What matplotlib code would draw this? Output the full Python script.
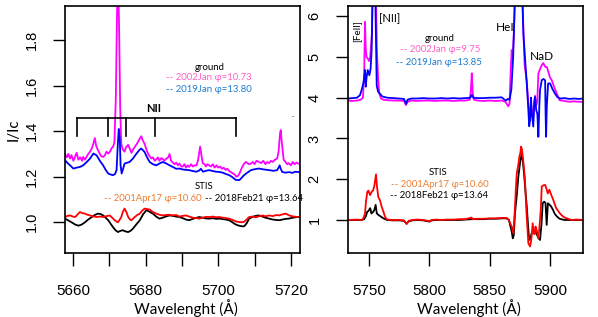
import matplotlib
matplotlib.use('Agg')
import matplotlib.pyplot as plt

# ---- data ----
# left panel (NII region)
gr02_x = [5657.8, 5658.3, 5658.7, 5659.2, 5659.6, 5660.1, 5660.6, 5661.0, 5661.5, 5662.0,
          5662.5, 5662.8, 5663.3, 5663.8, 5664.2, 5664.7, 5665.2, 5665.6, 5666.0, 5666.4,
          5666.9, 5667.4, 5667.8, 5668.3, 5668.8, 5669.2, 5669.7, 5670.2, 5670.6, 5671.0,
          5671.4, 5671.8, 5672.1, 5672.4, 5672.7, 5673.0, 5673.3, 5673.7, 5674.2, 5674.6,
          5675.2, 5675.7, 5676.1, 5676.5, 5677.0, 5677.4, 5677.8, 5678.3, 5678.8, 5679.2,
          5679.7, 5680.2, 5680.7, 5681.1, 5681.6, 5682.0, 5682.5, 5682.9, 5683.4, 5683.8,
          5684.3, 5684.7, 5685.2, 5685.7, 5686.2, 5686.6, 5687.0, 5687.5, 5688.0, 5688.4,
          5688.9, 5689.3, 5689.8, 5690.2, 5690.7, 5691.1, 5691.6, 5692.0, 5692.5, 5693.0,
          5693.5, 5694.0, 5694.4, 5694.8, 5695.0, 5695.3, 5695.7, 5696.2, 5696.6, 5697.0,
          5697.5, 5698.0, 5698.5, 5699.0, 5699.5, 5700.0, 5700.5, 5701.0, 5701.5, 5702.0,
          5702.5, 5703.0, 5703.5, 5704.0, 5704.5, 5705.0, 5705.5, 5706.0, 5706.5, 5707.0,
          5707.6, 5708.0, 5708.5, 5709.0, 5709.5, 5710.0, 5710.5, 5711.2, 5711.8, 5712.4,
          5713.0, 5713.5, 5714.0, 5714.5, 5715.0, 5715.6, 5716.2, 5716.6, 5717.0, 5717.2,
          5717.5, 5718.0, 5718.5, 5719.0, 5719.4, 5720.0, 5720.5, 5721.0, 5721.5, 5722.5]
gr02_y = [1.300, 1.285, 1.300, 1.280, 1.295, 1.270, 1.290, 1.305, 1.275, 1.285,
          1.270, 1.287, 1.275, 1.290, 1.300, 1.310, 1.325, 1.345, 1.370, 1.335,
          1.316, 1.300, 1.290, 1.287, 1.295, 1.310, 1.302, 1.310, 1.325, 1.331,
          1.350, 1.550, 1.900, 2.100, 1.850, 1.500, 1.345, 1.320, 1.310, 1.330,
          1.340, 1.320, 1.305, 1.318, 1.330, 1.340, 1.350, 1.365, 1.378, 1.360,
          1.345, 1.320, 1.300, 1.290, 1.280, 1.285, 1.270, 1.276, 1.285, 1.270,
          1.282, 1.278, 1.270, 1.280, 1.285, 1.300, 1.270, 1.262, 1.255, 1.262,
          1.250, 1.258, 1.245, 1.245, 1.255, 1.240, 1.250, 1.243, 1.255, 1.245,
          1.250, 1.250, 1.270, 1.310, 1.332, 1.300, 1.260, 1.255, 1.245, 1.255,
          1.250, 1.245, 1.255, 1.240, 1.250, 1.240, 1.245, 1.235, 1.240, 1.230,
          1.235, 1.225, 1.220, 1.215, 1.210, 1.200, 1.205, 1.220, 1.240, 1.255,
          1.265, 1.260, 1.255, 1.258, 1.265, 1.255, 1.270, 1.265, 1.260, 1.270,
          1.255, 1.265, 1.260, 1.270, 1.265, 1.275, 1.280, 1.310, 1.390, 1.405,
          1.350, 1.275, 1.265, 1.255, 1.260, 1.250, 1.265, 1.255, 1.262, 1.255]

gr19_x = [5657.8, 5658.5, 5659.2, 5660.1, 5661.0, 5661.9, 5662.8, 5663.8, 5664.7, 5665.6,
          5666.5, 5667.4, 5668.3, 5669.0, 5669.7, 5670.3, 5671.0, 5671.6, 5672.0, 5672.3,
          5672.6, 5672.9, 5673.1, 5673.4, 5673.8, 5674.2, 5675.0, 5675.6, 5676.5, 5677.5,
          5678.3, 5678.8, 5679.7, 5680.4, 5681.1, 5682.0, 5682.9, 5683.8, 5684.7, 5685.7,
          5686.6, 5687.5, 5688.4, 5689.3, 5690.2, 5691.1, 5692.0, 5693.0, 5694.0, 5694.8,
          5695.2, 5695.8, 5696.6, 5697.5, 5698.5, 5699.4, 5700.3, 5701.2, 5702.1, 5703.0,
          5703.9, 5704.8, 5705.8, 5706.4, 5707.1, 5708.0, 5709.0, 5710.0, 5711.2, 5712.5,
          5714.0, 5715.2, 5716.2, 5716.6, 5716.9, 5717.2, 5717.6, 5718.5, 5719.5, 5720.4,
          5721.2, 5722.5]
gr19_y = [1.273, 1.260, 1.250, 1.236, 1.240, 1.243, 1.250, 1.265, 1.280, 1.302,
          1.294, 1.270, 1.250, 1.230, 1.214, 1.210, 1.207, 1.212, 1.230, 1.330,
          1.410, 1.360, 1.250, 1.214, 1.235, 1.258, 1.262, 1.265, 1.280, 1.302,
          1.318, 1.324, 1.309, 1.285, 1.265, 1.255, 1.250, 1.258, 1.265, 1.258,
          1.250, 1.243, 1.235, 1.236, 1.232, 1.230, 1.229, 1.225, 1.222, 1.228,
          1.235, 1.222, 1.226, 1.229, 1.225, 1.222, 1.221, 1.218, 1.212, 1.207,
          1.198, 1.186, 1.185, 1.195, 1.207, 1.218, 1.229, 1.233, 1.236, 1.232,
          1.229, 1.226, 1.229, 1.240, 1.250, 1.235, 1.221, 1.218, 1.220, 1.217,
          1.222, 1.220]

st01_x = [5657.8, 5658.5, 5659.2, 5660.0, 5660.6, 5661.3, 5661.9, 5662.6, 5663.3, 5664.0,
          5664.7, 5665.6, 5666.5, 5667.4, 5668.3, 5669.2, 5670.1, 5670.8, 5671.5, 5672.0,
          5672.4, 5672.8, 5673.3, 5673.7, 5674.2, 5674.7, 5675.2, 5675.7, 5676.1, 5676.5,
          5677.0, 5677.7, 5678.4, 5679.0, 5679.7, 5680.4, 5681.1, 5682.0, 5682.9, 5683.8,
          5684.7, 5685.7, 5686.6, 5687.5, 5688.4, 5689.3, 5690.2, 5691.1, 5692.0, 5693.0,
          5694.0, 5694.8, 5695.7, 5696.6, 5697.5, 5698.5, 5699.4, 5700.3, 5701.2, 5702.1,
          5703.0, 5704.0, 5705.0, 5705.8, 5706.5, 5707.1, 5707.8, 5708.5, 5709.5, 5710.3,
          5711.2, 5712.2, 5713.0, 5714.0, 5715.0, 5716.0, 5716.8, 5717.7, 5718.6, 5719.5,
          5720.5, 5721.8, 5722.5]
st01_y = [1.023, 1.028, 1.030, 1.025, 1.023, 1.035, 1.045, 1.040, 1.038, 1.033,
          1.030, 1.026, 1.023, 1.025, 1.023, 1.027, 1.030, 1.020, 1.009, 1.003,
          1.000, 1.010, 1.023, 1.045, 1.060, 1.045, 1.023, 1.012, 1.009, 1.015,
          1.023, 1.032, 1.038, 1.050, 1.060, 1.058, 1.056, 1.045, 1.038, 1.033,
          1.030, 1.032, 1.033, 1.030, 1.032, 1.025, 1.028, 1.030, 1.025, 1.020,
          1.018, 1.016, 1.020, 1.024, 1.023, 1.025, 1.022, 1.023, 1.020, 1.018,
          1.016, 1.010, 1.003, 1.001, 1.000, 1.002, 1.012, 1.023, 1.025, 1.022,
          1.026, 1.030, 1.026, 1.030, 1.027, 1.032, 1.030, 1.035, 1.038, 1.030,
          1.026, 1.023, 1.025]

st18_x = [5657.8, 5658.7, 5659.6, 5660.6, 5661.5, 5662.4, 5663.3, 5664.2, 5665.2, 5666.0,
          5666.9, 5667.6, 5668.3, 5669.0, 5669.7, 5670.3, 5671.0, 5671.7, 5672.4, 5673.0,
          5673.7, 5674.4, 5675.2, 5675.9, 5676.5, 5677.4, 5678.4, 5679.3, 5680.2, 5681.1,
          5682.0, 5682.9, 5683.8, 5684.7, 5685.7, 5686.6, 5687.5, 5688.4, 5689.3, 5690.2,
          5691.1, 5692.0, 5693.0, 5694.0, 5694.8, 5695.7, 5696.6, 5697.5, 5698.5, 5699.4,
          5700.3, 5701.2, 5702.1, 5703.0, 5703.9, 5704.6, 5705.3, 5706.2, 5707.1, 5707.8,
          5708.5, 5709.5, 5710.3, 5711.2, 5712.2, 5713.0, 5714.0, 5715.0, 5716.0, 5716.8,
          5717.7, 5718.6, 5719.4, 5720.5, 5721.8, 5722.5]
st18_y = [1.016, 1.008, 1.000, 0.990, 0.985, 0.990, 1.000, 1.012, 1.023, 1.032,
          1.038, 1.036, 1.030, 1.020, 1.009, 0.995, 0.979, 0.965, 0.957, 0.962,
          0.965, 0.960, 0.957, 0.963, 0.972, 0.990, 1.009, 1.035, 1.053, 1.046,
          1.038, 1.025, 1.016, 1.020, 1.026, 1.030, 1.028, 1.025, 1.023, 1.018,
          1.012, 1.009, 1.015, 1.020, 1.023, 1.020, 1.017, 1.016, 1.018, 1.015,
          1.016, 1.014, 1.012, 1.009, 1.000, 0.992, 0.987, 0.983, 0.982, 0.995,
          1.016, 1.024, 1.028, 1.030, 1.025, 1.020, 1.016, 1.012, 1.010, 1.009,
          1.012, 1.015, 1.016, 1.020, 1.023, 1.022]

# NII line positions marked on the left panel
nii_x = [5661.1, 5669.6, 5674.5, 5682.5, 5704.9]

# right panel (5730-5930 region)
gr02r_x = [5732.6, 5736, 5740, 5743, 5745, 5746, 5746.7, 5747.3, 5748, 5749,
           5750, 5751, 5752.5, 5753.5, 5754.5, 5755.5, 5756.5, 5757.5, 5758.5, 5760,
           5762, 5765, 5770, 5775, 5779, 5780.7, 5782, 5785, 5790, 5795,
           5800, 5805, 5810, 5815, 5820, 5825, 5830, 5833.5, 5834.5, 5835.2,
           5836, 5837, 5840, 5845, 5850, 5855, 5860, 5863, 5865.5, 5866.5,
           5867.5, 5868.3, 5869.0, 5870.0, 5871, 5873, 5875, 5877, 5878, 5879,
           5880.8, 5882.1, 5883.5, 5884.5, 5886.2, 5887.6, 5888.5, 5889.5, 5890.4, 5891.8,
           5893.2, 5894.5, 5896, 5897.5, 5898.5, 5900, 5901.5, 5903, 5905, 5908,
           5912, 5916, 5920, 5924, 5927.4]
gr02r_y = [3.93, 3.92, 3.93, 3.95, 4.00, 4.60, 5.86, 5.20, 5.00, 4.96,
           4.90, 5.00, 5.60, 7.50, 8.00, 7.00, 5.20, 4.50, 4.10, 3.98,
           3.95, 3.94, 3.93, 3.93, 3.92, 3.82, 3.90, 3.93, 3.92, 3.93,
           3.93, 3.92, 3.93, 3.93, 3.92, 3.93, 3.93, 3.95, 4.20, 4.60,
           4.10, 3.95, 3.93, 3.92, 3.93, 3.92, 3.93, 3.90, 3.79, 3.85,
           4.70, 5.17, 4.95, 5.50, 6.50, 7.50, 7.50, 6.80, 5.60, 4.80,
           4.40, 3.85, 3.60, 3.80, 3.50, 4.05, 3.80, 3.90, 4.60, 4.70,
           4.80, 4.85, 4.76, 4.75, 4.65, 4.50, 4.43, 4.30, 4.15, 3.94,
           3.92, 3.90, 3.91, 3.90, 3.90]

gr19r_x = [5732.6, 5736, 5740, 5742.5, 5744, 5745.3, 5746.0, 5746.7, 5747.3, 5748,
           5749, 5750.3, 5751.3, 5752.2, 5753.2, 5754.5, 5755.5, 5756.4, 5757.5, 5759.1,
           5761, 5765, 5770, 5775, 5779, 5780.7, 5782, 5785, 5790, 5795,
           5800, 5805, 5810, 5815, 5820, 5825, 5830, 5834, 5835.2, 5836.5,
           5840, 5845, 5850, 5855, 5860, 5862, 5863.5, 5865, 5866.5, 5868,
           5869.5, 5871, 5873, 5875.5, 5877.0, 5878.0, 5879.5, 5880.8, 5882.1, 5882.8,
           5883.5, 5884.3, 5885.0, 5886.2, 5887.0, 5887.6, 5888.6, 5889.6, 5890.4, 5891.2,
           5891.8, 5893.2, 5894.5, 5896.0, 5896.4, 5896.8, 5897.4, 5898.5, 5900.1, 5902,
           5904.2, 5906, 5908.3, 5912, 5916, 5920, 5924, 5927.4]
gr19r_y = [3.98, 3.99, 4.00, 4.06, 4.20, 4.35, 4.47, 4.68, 4.27, 4.50,
           4.68, 4.55, 4.70, 5.17, 7.00, 8.00, 6.00, 4.30, 4.15, 4.10,
           4.03, 4.00, 3.99, 3.98, 3.97, 3.85, 3.95, 3.98, 3.98, 3.99,
           3.98, 3.98, 3.99, 3.98, 3.99, 3.98, 3.99, 4.00, 4.07, 4.00,
           3.99, 3.99, 4.00, 4.00, 4.01, 3.96, 3.93, 3.97, 3.95, 4.20,
           5.00, 6.50, 7.50, 7.50, 6.50, 5.58, 4.90, 4.35, 3.70, 3.30,
           3.45, 4.00, 3.60, 3.29, 3.90, 4.02, 3.70, 3.60, 3.04, 3.80,
           4.19, 4.43, 4.46, 4.43, 3.60, 3.04, 3.80, 4.35, 4.35, 4.22,
           4.10, 4.02, 3.98, 3.99, 3.97, 3.98, 3.97, 3.98]

st01r_x = [5732.6, 5740, 5744, 5745.5, 5746.7, 5747.5, 5748.6, 5749.5, 5750.9, 5752.2,
           5753.5, 5754.5, 5755.8, 5756.7, 5757.7, 5759, 5760.5, 5762, 5763.3, 5765,
           5770, 5775, 5779, 5781.2, 5783, 5786, 5790, 5795, 5800, 5802,
           5806, 5810, 5815, 5820, 5825, 5830, 5835, 5836, 5840, 5845,
           5850, 5855, 5860, 5864, 5866, 5867, 5868.3, 5869.7, 5870.8, 5871.8,
           5872.5, 5874.0, 5874.6, 5875.5, 5876, 5876.7, 5877.5, 5878.4, 5879.3, 5880.5,
           5882.1, 5883.5, 5884.5, 5885.7, 5886.5, 5887.3, 5888.0, 5889.0, 5890.4, 5891.5,
           5892.4, 5893.2, 5894.5, 5896, 5897.3, 5898.2, 5899.5, 5901, 5902.8, 5905,
           5908.3, 5911, 5913.8, 5918, 5922, 5927.4]
st01r_y = [1.00, 1.01, 1.00, 1.05, 1.16, 1.45, 1.69, 1.72, 1.61, 1.69,
           1.73, 1.85, 2.12, 1.80, 1.57, 1.49, 1.33, 1.20, 1.08, 1.01,
           1.00, 1.00, 0.99, 0.90, 0.98, 1.00, 1.01, 1.00, 0.97, 1.00,
           1.01, 1.00, 1.01, 1.01, 1.02, 1.02, 1.06, 1.02, 1.03, 1.03,
           1.04, 1.04, 1.05, 1.05, 1.00, 0.92, 0.84, 0.67, 1.20, 1.80,
           2.14, 2.40, 2.55, 2.65, 2.80, 2.75, 2.55, 2.30, 1.98, 1.20,
           0.43, 0.35, 0.50, 0.92, 0.67, 0.65, 0.84, 0.75, 0.55, 0.90,
           1.25, 1.82, 1.85, 1.86, 1.75, 1.65, 1.74, 1.62, 1.49, 1.30,
           1.16, 1.08, 1.04, 1.00, 1.01, 1.00]

st18r_x = [5732.6, 5740, 5744, 5746, 5747.5, 5748.5, 5749.5, 5751, 5752, 5753.5,
           5754.5, 5755.5, 5756.5, 5758, 5760, 5762, 5763.5, 5765, 5770, 5775,
           5779, 5781.2, 5783, 5786, 5790, 5795, 5800, 5802, 5806, 5810,
           5815, 5820, 5825, 5830, 5835, 5840, 5845, 5850, 5855, 5860,
           5864, 5866, 5867.2, 5868.3, 5869.2, 5870.0, 5871, 5872.5, 5873.8, 5875.2,
           5876.6, 5877.5, 5878.5, 5880, 5880.8, 5882, 5882.8, 5883.8, 5884.8, 5886,
           5887.5, 5889, 5890.6, 5891.8, 5893, 5894, 5895.2, 5896.3, 5897.3, 5898.3,
           5899.5, 5901, 5902.5, 5904, 5906, 5908, 5912, 5918, 5927.4]
st18r_y = [1.00, 1.00, 1.00, 1.02, 1.10, 1.20, 1.22, 1.29, 1.16, 1.20,
           1.25, 1.37, 1.16, 1.12, 1.08, 1.04, 1.02, 1.00, 0.99, 0.99,
           0.98, 0.91, 0.97, 0.99, 1.00, 0.99, 0.96, 0.99, 1.00, 1.00,
           1.00, 1.00, 1.00, 1.01, 1.02, 1.02, 1.02, 1.03, 1.03, 1.04,
           1.04, 1.00, 0.85, 0.72, 0.55, 0.62, 1.16, 1.60, 2.06, 2.40,
           2.63, 2.45, 2.14, 1.60, 1.33, 0.80, 0.51, 0.55, 0.67, 0.72,
           0.75, 0.65, 0.55, 0.51, 0.90, 1.41, 1.45, 1.42, 0.88, 1.41,
           1.38, 1.33, 1.25, 1.15, 1.08, 1.03, 1.00, 1.00, 1.00]

# ---- colours / fonts ----
MAG, BLU, RED, BLK = '#FF00FF', '#0000FF', '#FF0000', 'black'
PINK_TXT, BLUE_TXT, ORANGE_TXT = '#FF5FC8', '#1C7CD0', '#ED7D31'
TICKFONT = 'Liberation Sans'
TXTFONT = ['Lato', 'DejaVu Sans']
ANN = 6.9

fig = plt.figure(figsize=(5.98, 3.17), dpi=100)
ax1 = fig.add_axes([65/598, 64/317, 235/598, 247/317])
ax2 = fig.add_axes([348/598, 64/317, 235/598, 247/317])

# left panel
ax1.plot(gr02_x, gr02_y, color=MAG, lw=1.3)
ax1.plot(gr19_x, gr19_y, color=BLU, lw=1.3)
ax1.plot(st18_x, st18_y, color=BLK, lw=1.3)
ax1.plot(st01_x, st01_y, color=RED, lw=1.3)
ax1.set_xlim(5657.8, 5722.5)
ax1.set_ylim(0.865, 1.95)
ax1.set_xticks(range(5660, 5721, 10))
ax1.set_xticklabels([str(v) if v % 20 == 0 else '' for v in range(5660, 5721, 10)])
ax1.set_yticks([1.0, 1.2, 1.4, 1.6, 1.8])
ax1.set_yticklabels(['1.0', '1.2', '1.4', '1.6', '1.8'])

# NII marker
ax1.plot([nii_x[0], nii_x[-1]], [1.457, 1.457], color='black', lw=1.2)
for xv in nii_x:
    ax1.plot([xv, xv], [1.457, 1.378], color='black', lw=1.2)

# right panel
ax2.plot(gr02r_x, gr02r_y, color=MAG, lw=1.3)
ax2.plot(gr19r_x, gr19r_y, color=BLU, lw=1.3)
ax2.plot(st18r_x, st18r_y, color=BLK, lw=1.3)
ax2.plot(st01r_x, st01r_y, color=RED, lw=1.3)
ax2.set_xlim(5732.6, 5927.4)
ax2.set_ylim(0.19, 6.25)
ax2.set_xticks([5750, 5800, 5850, 5900])
ax2.set_yticks([1, 2, 3, 4, 5, 6])

for ax in (ax1, ax2):
    for sp in ax.spines.values():
        sp.set_linewidth(1.2)
    ax.tick_params(axis='x', length=9, width=1, pad=13, labelsize=11)
    ax.tick_params(axis='y', length=8.5, width=1, pad=10.5, labelsize=10.5)
    for t in ax.get_xticklabels() + ax.get_yticklabels():
        t.set_fontfamily(TICKFONT)
    for t in ax.get_yticklabels():
        t.set_rotation(90)
        t.set_va('center')
    ax.set_xlabel('Wavelenght (Å)', fontsize=11, family=TXTFONT)
    ax.xaxis.set_label_coords(0.515, -0.188)

ax1.set_ylabel('I/Ic', fontsize=11, family=TXTFONT)
ax1.yaxis.set_label_coords(-0.19, 0.50)

# left annotations
kw = dict(transform=ax1.transAxes, ha='center', va='center', family=TXTFONT, fontsize=ANN)
ax1.text(0.617, 0.753, 'ground', color='black', **kw)
ax1.text(0.613, 0.709, '-- 2002Jan φ=10.73', color=PINK_TXT, **kw)
ax1.text(0.613, 0.660, '-- 2019Jan φ=13.80', color=BLUE_TXT, **kw)
ax1.text(0.379, 0.587, 'NII', color='black', fontweight='bold',
         transform=ax1.transAxes, ha='center', va='center', family=TXTFONT, fontsize=8)
ax1.text(0.591, 0.271, 'STIS', color='black', **kw)
ax1.text(0.583, 0.219, '-- 2001Apr17 φ=10.60', color=ORANGE_TXT,
         transform=ax1.transAxes, ha='right', va='center', family=TXTFONT, fontsize=ANN)
ax1.text(0.596, 0.219, '-- 2018Feb21 φ=13.64', color='black',
         transform=ax1.transAxes, ha='left', va='center', family=TXTFONT, fontsize=ANN)
ax1.text(0.970, 0.56, '.', color='black', **kw)

# right annotations
kw2 = dict(transform=ax2.transAxes, ha='center', va='center', family=TXTFONT, fontsize=ANN)
ax2.text(0.038, 0.899, '[FeII]', rotation=90, color='black',
         transform=ax2.transAxes, ha='center', va='center', family=TXTFONT, fontsize=7)
ax2.text(0.179, 0.951, '[NII]', color='black', fontsize=8,
         transform=ax2.transAxes, ha='center', va='center', family=TXTFONT)
ax2.text(0.391, 0.870, 'ground', color='black', **kw2)
ax2.text(0.393, 0.822, '-- 2002Jan φ=9.75', color=PINK_TXT, **kw2)
ax2.text(0.387, 0.773, '-- 2019Jan φ=13.85', color=BLUE_TXT, **kw2)
ax2.text(0.668, 0.911, 'HeI', color='black', fontsize=8.5,
         transform=ax2.transAxes, ha='center', va='center', family=TXTFONT)
ax2.text(0.826, 0.794, 'NaD', color='black', fontsize=8.5,
         transform=ax2.transAxes, ha='center', va='center', family=TXTFONT)
ax2.text(0.383, 0.324, 'STIS', color='black', **kw2)
ax2.text(0.391, 0.279, '-- 2001Apr17 φ=10.60', color=ORANGE_TXT, **kw2)
ax2.text(0.387, 0.231, '-- 2018Feb21 φ=13.64', color='black', **kw2)

fig.savefig('out.png', dpi=100)
